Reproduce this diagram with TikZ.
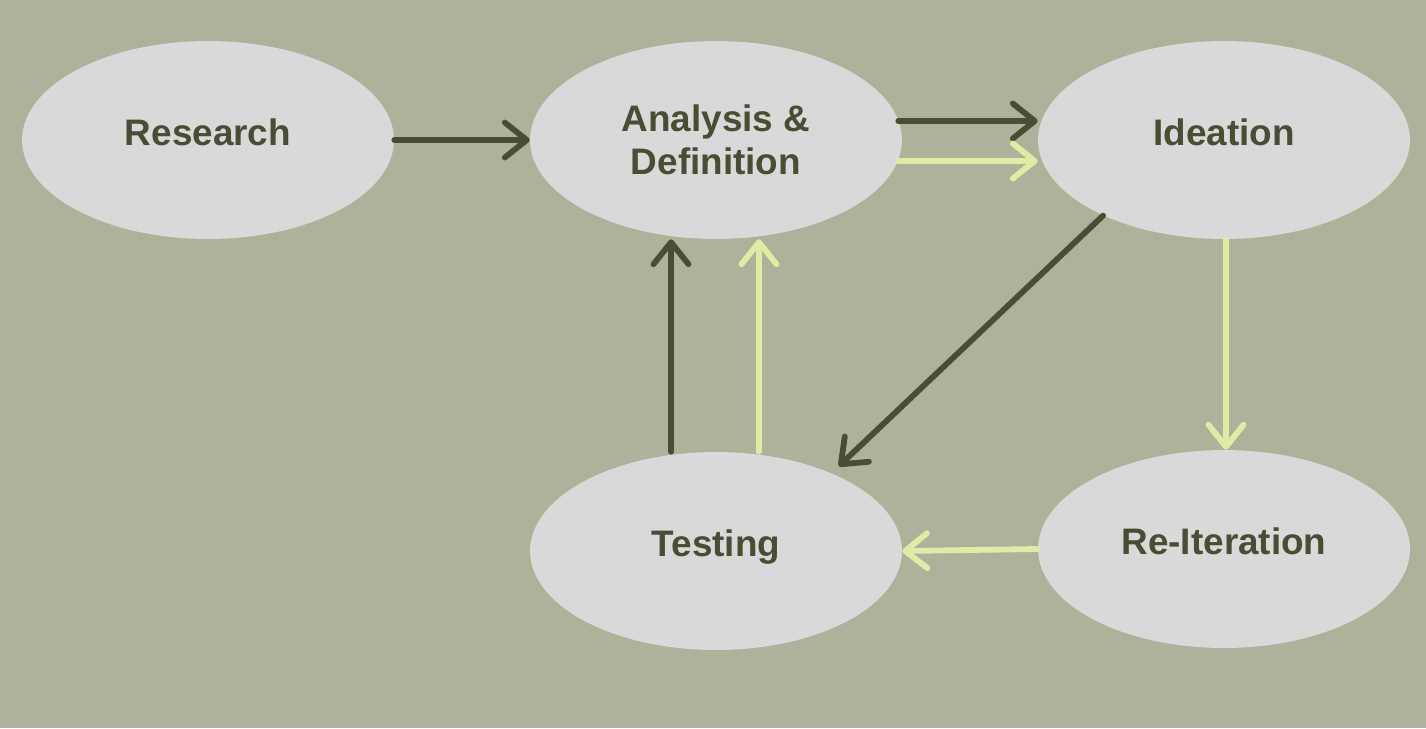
\documentclass[tikz,border=0pt]{standalone}
\usepackage{fontspec}
\setmainfont{Liberation Sans}
\usetikzlibrary{arrows.meta,shapes.geometric}
\definecolor{bgsage}{HTML}{ADB29A}
\definecolor{ovalgrey}{HTML}{D9D9D9}
\definecolor{darkolive}{HTML}{4A4C33}
\definecolor{paleyellow}{HTML}{E0ECA6}

\begin{document}
\begin{tikzpicture}[
  x=0.02cm, y=-0.02cm,
  font=\fontsize{21}{24.5}\selectfont\bfseries,
  stage/.style ={ellipse, fill=ovalgrey, draw=none, minimum width=7.44cm,
                 minimum height=3.96cm, inner sep=0pt, align=center, text=darkolive},
  oneline/.style={stage, text height=0.5cm, text depth=0.3cm},
  ar/.style    ={-{Straight Barb[length=4.4mm, width=7mm, line cap=round, line join=round]},
                 line width=3.3pt, line cap=round},
  dk/.style    ={ar, draw=darkolive},
  lt/.style    ={ar, draw=paleyellow},
]
% --- background ---
\fill[bgsage] (0,0) rectangle (1426,728);

% --- stages ---
\node[oneline] (res) at (208,140)  {Research};
\node[stage]   (ana) at (716,140)  {Analysis \&\\Definition};
\node[oneline] (ide) at (1224,140) {Ideation};
\node[oneline] (tes) at (716,551)  {Testing};
\node[oneline] (rei) at (1224,549) {Re-Iteration};

% --- edges ---
\draw[dk] (res.east) -- (ana.west);
\draw[dk] ([xshift=-0.08cm, yshift=0.38cm]ana.east) -- ([yshift=0.38cm]ide.west);
\draw[lt] ([xshift=-0.08cm, yshift=-0.42cm]ana.east) -- ([yshift=-0.42cm]ide.west);
\draw[dk, shorten >=0.2cm] (ide.212) -- (tes.34);
\draw[lt] ([xshift=0.04cm]ide.south) -- ([xshift=0.04cm]rei.north);
\draw[lt] (rei.west) -- (tes.east);
\draw[dk] ([xshift=-0.9cm]tes.north) -- ([xshift=-0.9cm]ana.south);
\draw[lt] ([xshift=0.86cm]tes.north) -- ([xshift=0.86cm]ana.south);
\end{tikzpicture}
\end{document}
